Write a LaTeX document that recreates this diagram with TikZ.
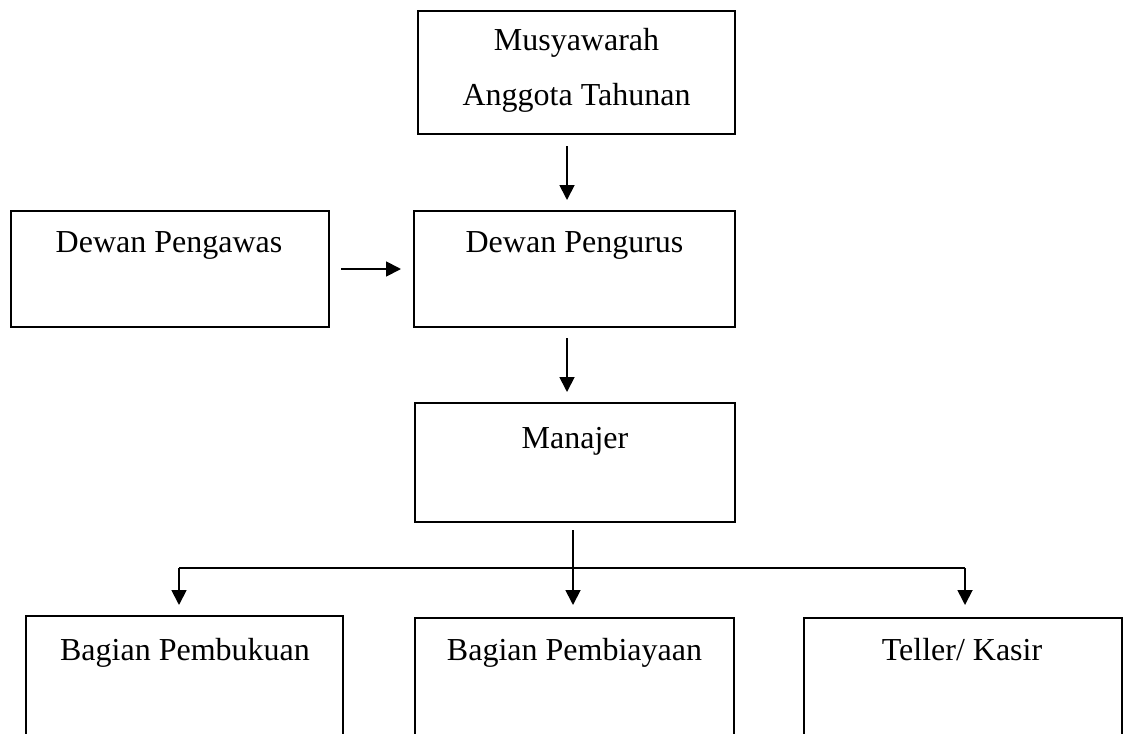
\documentclass[tikz,border=0pt]{standalone}
\usepackage{fontspec}
\setmainfont{Liberation Serif}
\usetikzlibrary{arrows.meta,calc}
\begin{document}
\begin{tikzpicture}[x=0.5pt,y=-0.5pt,
  box/.style={draw,line width=1pt,rectangle,inner sep=0pt},
  lbl/.style={font=\fontsize{16pt}{19pt}\selectfont,inner sep=0pt,anchor=base},
  conn/.style={line width=0.9pt},
  arr/.style={line width=0.9pt,-{Triangle[length=7.5pt,width=7.5pt]}}]
\useasboundingbox (0,0) rectangle (1128,733);
\clip (0,0) rectangle (1128,733);
% boxes
\node[box,minimum width=158.5pt,minimum height=61.5pt] (mat) at (576.5,72.5) {};
\node[box,minimum width=159pt,minimum height=58pt] (pengawas) at (170,269) {};
\node[box,minimum width=160.5pt,minimum height=58pt] (pengurus) at (574.5,269) {};
\node[box,minimum width=160pt,minimum height=59.5pt] (manajer) at (575,462.5) {};
\node[box,minimum width=158.5pt,minimum height=70pt] (pembukuan) at (184.5,686) {};
\node[box,minimum width=159.5pt,minimum height=70pt] (pembiayaan) at (574.5,688) {};
\node[box,minimum width=159pt,minimum height=70pt] (teller) at (962.5,688) {};
% labels
\node[lbl] (t1) at (576.5,51) {Musyawarah};
\node[lbl] (t2) at (576.5,105) {Anggota Tahunan};
\node[lbl] (t3) at (169,252) {Dewan Pengawas};
\node[lbl] (t4) at (574.5,252) {Dewan Pengurus};
\node[lbl] (t5) at (575,448) {Manajer};
\node[lbl] (t6) at (185,660) {Bagian Pembukuan};
\node[lbl] (t7) at (574.5,660) {Bagian Pembiayaan};
\node[lbl] (t8) at (962,660) {Teller/ Kasir};
% connectors
\draw[arr,shorten <=5.5pt,shorten >=5pt] ([xshift=-4.75pt]mat.south) -- ([xshift=-3.75pt]pengurus.north);
\draw[arr,shorten <=5.5pt,shorten >=6pt] (pengawas.east) -- (pengurus.west);
\draw[arr,shorten <=5pt,shorten >=5pt] ([xshift=-3.75pt]pengurus.south) -- ([xshift=-4pt]manajer.north);
\coordinate (bus) at (573,568);
\coordinate (b1) at (179,568);
\coordinate (b3) at (965,568);
\draw[arr,shorten <=3.5pt,shorten >=6pt] (manajer.south -| bus) -- (pembiayaan.north -| bus);
\draw[conn] (b1) -- (b3);
\draw[arr,shorten >=5pt] (b1) -- (b1 |- pembukuan.north);
\draw[arr,shorten >=6pt] (b3) -- (b3 |- teller.north);
\end{tikzpicture}
\end{document}
